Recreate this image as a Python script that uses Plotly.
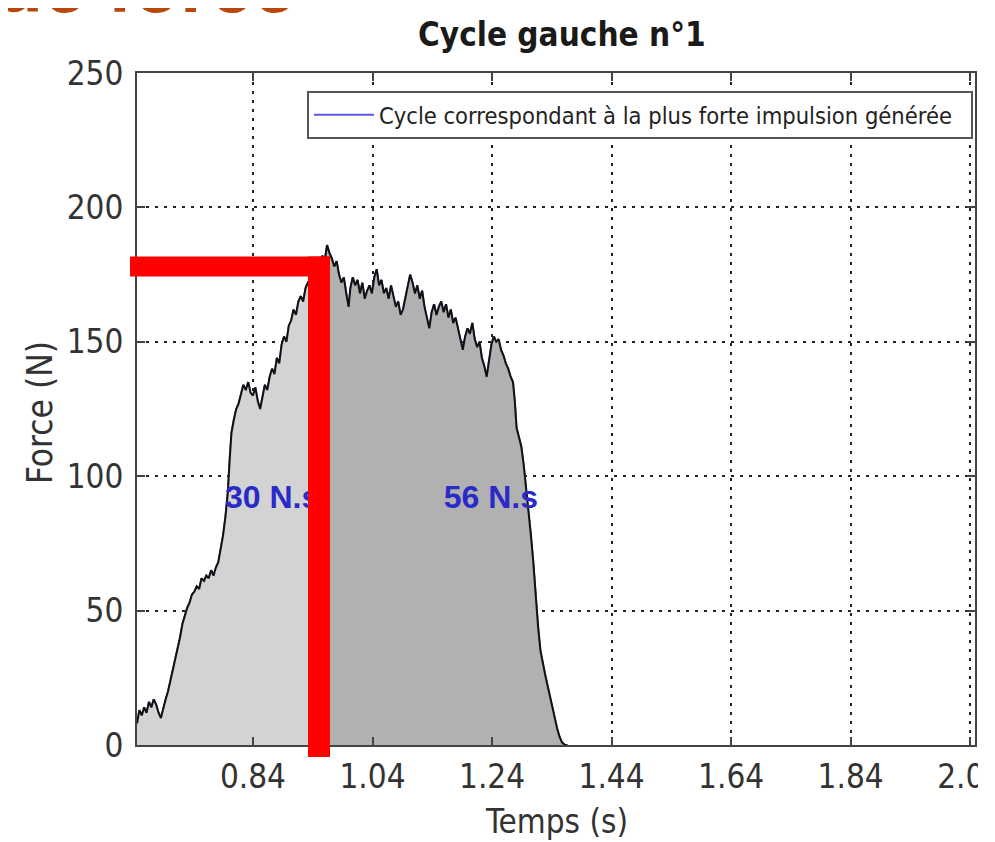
import numpy as np
import plotly.graph_objects as go

# ---------------- data ----------------
time_s = [0.646, 0.650, 0.654, 0.658, 0.662, 0.666, 0.670, 0.674, 0.678, 0.682,
          0.686, 0.690, 0.694, 0.698, 0.702, 0.706, 0.710, 0.714, 0.718, 0.722,
          0.726, 0.730, 0.734, 0.738, 0.742, 0.746, 0.750, 0.754, 0.758, 0.762,
          0.766, 0.770, 0.774, 0.778, 0.782, 0.786, 0.790, 0.794, 0.798, 0.801,
          0.804, 0.808, 0.812, 0.816, 0.820, 0.824, 0.828, 0.832, 0.836, 0.840,
          0.844, 0.848, 0.852, 0.856, 0.860, 0.864, 0.868, 0.872, 0.876, 0.880,
          0.884, 0.888, 0.892, 0.896, 0.900, 0.904, 0.908, 0.912, 0.916, 0.920,
          0.924, 0.928, 0.932, 0.936, 0.940, 0.944, 0.948, 0.952, 0.956, 0.960,
          0.964, 0.968, 0.972, 0.976, 0.980, 0.984, 0.988, 0.992, 0.996, 1.000,
          1.003, 1.007, 1.011, 1.015, 1.019, 1.023, 1.027, 1.031, 1.035, 1.039,
          1.043, 1.047, 1.051, 1.055, 1.059, 1.063, 1.067, 1.071, 1.075, 1.079,
          1.083, 1.087, 1.091, 1.095, 1.099, 1.103, 1.107, 1.111, 1.115, 1.119,
          1.123, 1.127, 1.131, 1.135, 1.139, 1.143, 1.147, 1.151, 1.155, 1.159,
          1.163, 1.167, 1.171, 1.175, 1.179, 1.183, 1.187, 1.191, 1.195, 1.199,
          1.203, 1.207, 1.211, 1.215, 1.219, 1.223, 1.227, 1.231, 1.235, 1.239,
          1.243, 1.247, 1.251, 1.255, 1.259, 1.263, 1.267, 1.271, 1.275, 1.278,
          1.281, 1.285, 1.289, 1.293, 1.297, 1.301, 1.305, 1.309, 1.313, 1.317,
          1.321, 1.325, 1.329, 1.333, 1.337, 1.341, 1.345, 1.349, 1.353, 1.357,
          1.362, 1.366]
force_n = [8, 13, 11, 14, 12, 16, 14, 17, 15, 12,
           10, 14, 17, 20, 24, 27, 31, 35, 40, 45,
           48, 51, 53, 56, 57, 59, 58, 62, 61, 63,
           62, 65, 63, 66, 68, 73, 78, 85, 94, 106,
           116, 121, 125, 127, 131, 134, 132, 135, 131, 130,
           133, 128, 125, 130, 134, 132, 137, 140, 138, 144,
           142, 149, 152, 150, 156, 158, 162, 160, 165, 167,
           165, 170, 172, 171, 175, 174, 177, 179, 182, 180,
           186, 183, 181, 178, 180, 175, 172, 174, 168, 163,
           170, 174, 171, 173, 168, 172, 166, 169, 171, 168,
           174, 177, 171, 173, 168, 170, 166, 171, 167, 163,
           165, 160, 162, 166, 170, 175, 172, 168, 171, 166,
           169, 163, 159, 155, 161, 164, 160, 163, 165, 161,
           164, 159, 162, 157, 159, 155, 150, 147, 152, 155,
           153, 157, 151, 148, 150, 144, 141, 137, 143, 149,
           152, 150, 151, 147, 145, 142, 140, 137, 135, 128,
           118, 114, 111, 104, 96, 88, 78, 68, 55, 44,
           35, 30, 26, 22, 18, 13, 9, 6, 3, 1,
           0, 0]

x_ticks = [0.84, 1.04, 1.24, 1.44, 1.64, 1.84, 2.04]
x_tick_labels = ["0.84", "1.04", "1.24", "1.44", "1.64", "1.84", "2.04"]
y_ticks = [0, 50, 100, 150, 200, 250]
y_tick_labels = ["0", "50", "100", "150", "200", "250"]
x_range = [0.646, 2.048]
y_range = [0, 250]

split_time = 0.9505          # instant separating the two impulses (red vertical)
marker_force = 178           # force level marked by the red horizontal
impulse_labels = ["30 N.s", "56 N.s"]
impulse_label_time = [0.872, 1.238]
impulse_label_force = [91, 91]

chart_title = "Cycle gauche n°1"
legend_label = "Cycle correspondant à la plus forte impulsion générée"
x_title = "Temps (s)"
y_title = "Force (N)"
slide_title = "de force"

# ---------------- build segments ----------------
t = np.array(time_s, dtype=float)
f = np.array(force_n, dtype=float)
f_split = float(np.interp(split_time, t, f))
left_t = list(t[t < split_time]) + [split_time]
left_f = list(f[t < split_time]) + [f_split]
right_t = [split_time] + list(t[t > split_time])
right_f = [f_split] + list(f[t > split_time])

NARROW = "Liberation Sans Narrow, DejaVu Sans Condensed, Arial Narrow, sans-serif"
WIDE = "Liberation Sans, Arial, Helvetica, sans-serif"

fig = go.Figure()
fig.add_trace(go.Scatter(x=time_s, y=force_n, mode="lines",
                         line=dict(color="#5a5ad8", width=2),
                         name=legend_label + "\u00a0\u00a0", showlegend=True))
fig.add_trace(go.Scatter(x=left_t, y=left_f, mode="lines", fill="tozeroy",
                         fillcolor="#d3d3d3", line=dict(color="#111111", width=2),
                         showlegend=False, hoverinfo="skip"))
fig.add_trace(go.Scatter(x=right_t, y=right_f, mode="lines", fill="tozeroy",
                         fillcolor="#b1b1b1", line=dict(color="#111111", width=2),
                         showlegend=False, hoverinfo="skip"))
fig.add_trace(go.Scatter(x=impulse_label_time, y=impulse_label_force, mode="text",
                         text=impulse_labels,
                         textfont=dict(family=WIDE, size=32, color="#2a2ac8", weight="bold"),
                         showlegend=False, hoverinfo="skip"))

W, H = 838, 672  # plot area in px


def paper_x(tv):
    return (tv - x_range[0]) / (x_range[1] - x_range[0])


def paper_y(fv):
    return (fv - y_range[0]) / (y_range[1] - y_range[0])


shapes = [
    # red vertical bar
    dict(type="line", xref="paper", yref="paper",
         x0=paper_x(split_time), x1=paper_x(split_time),
         y0=-12 / H, y1=paper_y(marker_force) + 10 / H,
         line=dict(color="#ff0000", width=22), layer="above"),
    # red horizontal bar
    dict(type="line", xref="paper", yref="paper",
         x0=-7 / W, x1=paper_x(split_time) + 11 / W,
         y0=paper_y(marker_force), y1=paper_y(marker_force),
         line=dict(color="#ff0000", width=20), layer="above"),
    # crop of the right edge (original picture is cut there)
    dict(type="rect", xref="paper", yref="paper",
         x0=1 + 3 / W, x1=1.05, y0=-6 / H, y1=-0.2,
         fillcolor="white", line=dict(width=0), layer="above"),
]

annotations = [
    dict(text=chart_title, xref="paper", yref="paper", x=0.5 + 6 / W, y=1 + 38 / H,
         xanchor="center", yanchor="middle", showarrow=False,
         font=dict(family=NARROW, size=33, color="#1a1a1a", weight="bold")),
    dict(text=x_title, xref="paper", yref="paper", x=0.5, y=-76 / H,
         xanchor="center", yanchor="middle", showarrow=False,
         font=dict(family=NARROW, size=33, color="#333333")),
    dict(text=y_title, xref="paper", yref="paper", x=-97 / W, y=0.494,
         xanchor="center", yanchor="middle", showarrow=False, textangle=-90,
         font=dict(family=NARROW, size=35, color="#333333")),
    dict(text=slide_title, xref="paper", yref="paper", x=-143 / W, y=1 + 43 / H,
         xanchor="left", yanchor="bottom", showarrow=False,
         font=dict(family=WIDE, size=77, color="#b9470b", weight="bold")),
]

axis_common = dict(
    showline=True, linecolor="#444444", linewidth=2, mirror="ticks",
    ticks="inside", ticklen=8, tickcolor="#444444", tickwidth=2,
    showgrid=True, gridcolor="#222222", gridwidth=2, griddash="3px,6px",
    zeroline=False, tickfont=dict(family=NARROW, size=33, color="#333333"),
    ticklabeloverflow="allow", automargin=False,
)

# page has an 8px body margin: the figure is 8px smaller than the window
fig.update_layout(
    width=987, height=834, autosize=False,
    margin=dict(l=129, r=20, t=65, b=97, autoexpand=False),
    paper_bgcolor="white", plot_bgcolor="white",
    xaxis=dict(range=x_range, tickvals=x_ticks, ticktext=x_tick_labels,
               ticklabelstandoff=1, **axis_common),
    yaxis=dict(range=y_range, tickvals=y_ticks, ticktext=y_tick_labels,
               ticklabelstandoff=5, **axis_common),
    legend=dict(x=1 - 2 / W, xanchor="right", y=1 - 18 / H, yanchor="top",
                bgcolor="white", bordercolor="#555555", borderwidth=2,
                font=dict(family=NARROW, size=23.5, color="#222222"),
                itemwidth=60),
    shapes=shapes,
    annotations=annotations,
    showlegend=True,
)

fig.write_html("out.html")
